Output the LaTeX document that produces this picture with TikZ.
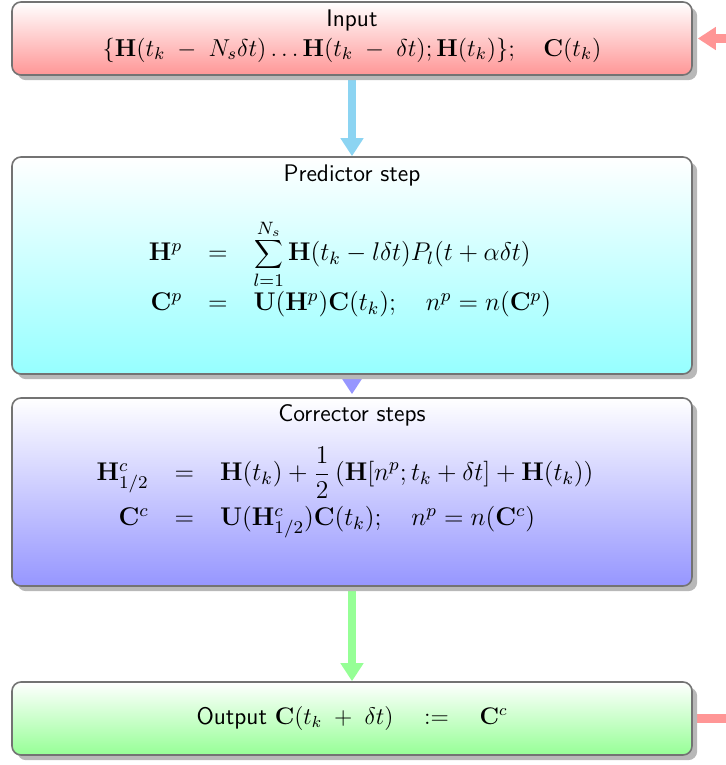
\RequirePackage{fix-cm}
\documentclass[tikz,border=0pt]{standalone}
\usetikzlibrary{shadows,arrows.meta,backgrounds}
\begin{document}
\begin{tikzpicture}[x=0.5pt,y=-0.5pt,
  every node/.style={font=\fontsize{12}{14}\selectfont},
  box/.style={draw=black!55, line width=0.8pt, rounded corners=4.5pt,
    minimum width=340pt, inner sep=0pt,
    drop shadow={shadow xshift=2.6pt, shadow yshift=-2.6pt, fill=black!28, opacity=1}},
  sans/.style={font=\fontsize{12}{14}\selectfont\sffamily},
  eqn/.style={font=\fontsize{12.8}{15.5}\selectfont},
  flow/.style={line width=4.2pt, -{Triangle[width=11pt,length=9pt]}},
]
\useasboundingbox (0,0) rectangle (726,765);
\definecolor{skyc}{RGB}{140,212,242}
\definecolor{redc}{RGB}{255,150,150}
\definecolor{cyanc}{RGB}{150,255,255}
\definecolor{bluec}{RGB}{150,150,255}
\definecolor{greenc}{RGB}{150,255,150}

% boxes
\node[box, top color=white, bottom color=redc, minimum height=36.5pt] (in) at (352,38.5) {};
\node[box, top color=white, bottom color=cyanc, minimum height=108.5pt] (pred) at (352,265.5) {};
\node[box, top color=white, bottom color=bluec, minimum height=94pt] (corr) at (352,492) {};
\node[box, top color=white, bottom color=greenc, minimum height=36.5pt] (out) at (352,718.5) {};

% connectors
\begin{pgfonlayer}{background}
\draw[flow, skyc] (in.south) -- (pred.north);
\draw[flow, bluec] (pred.south) -- ([yshift=1.5pt]corr.north);
\draw[flow, greenc] (corr.south) -- (out.north);
\draw[flow, redc] (out.east) -- ++(60,0) |- ([xshift=2.5pt]in.east);
\end{pgfonlayer}

% texts
\node[sans] (intitle) at (352,21) {Input};
\node[font=\fontsize{12.2}{15}\selectfont] (inform) at (352,50) {$\{\mathbf{H}(t_k\;-\;N_s\delta t)\ldots\mathbf{H}(t_k\;-\;\delta t);\mathbf{H}(t_k)\};\quad\mathbf{C}(t_k)$};

\node[sans] (predtitle) at (352,175) {Predictor step};
\node[eqn] (predeq) at (350,270) {$\setlength{\arraycolsep}{6.5pt}\begin{array}{rcl}
\mathbf{H}^p &=& \displaystyle\sum_{l=1}^{N_s}\mathbf{H}(t_k-l\delta t)P_l(t+\alpha\delta t)\\[9.5pt]
\mathbf{C}^p &=& \mathbf{U}(\mathbf{H}^p)\mathbf{C}(t_k);\quad n^p=n(\mathbf{C}^p)
\end{array}$};

\node[sans] (corrtitle) at (352,415) {Corrector steps};
\node[eqn] (correq) at (345,492.5) {$\setlength{\arraycolsep}{6.5pt}\begin{array}{rcl}
\mathbf{H}^c_{1/2} &=& \mathbf{H}(t_k)+\displaystyle\frac{1}{2}\left(\mathbf{H}[n^p;t_k+\delta t]+\mathbf{H}(t_k)\right)\\[7pt]
\mathbf{C}^c &=& \mathbf{U}(\mathbf{H}^c_{1/2})\mathbf{C}(t_k);\quad n^p=n(\mathbf{C}^c)
\end{array}$};

\node (outtext) at (352,718) {\sffamily Output $\mathbf{C}(t_k\;+\;\delta t)\quad:=\quad\mathbf{C}^c$};
\end{tikzpicture}
\end{document}
